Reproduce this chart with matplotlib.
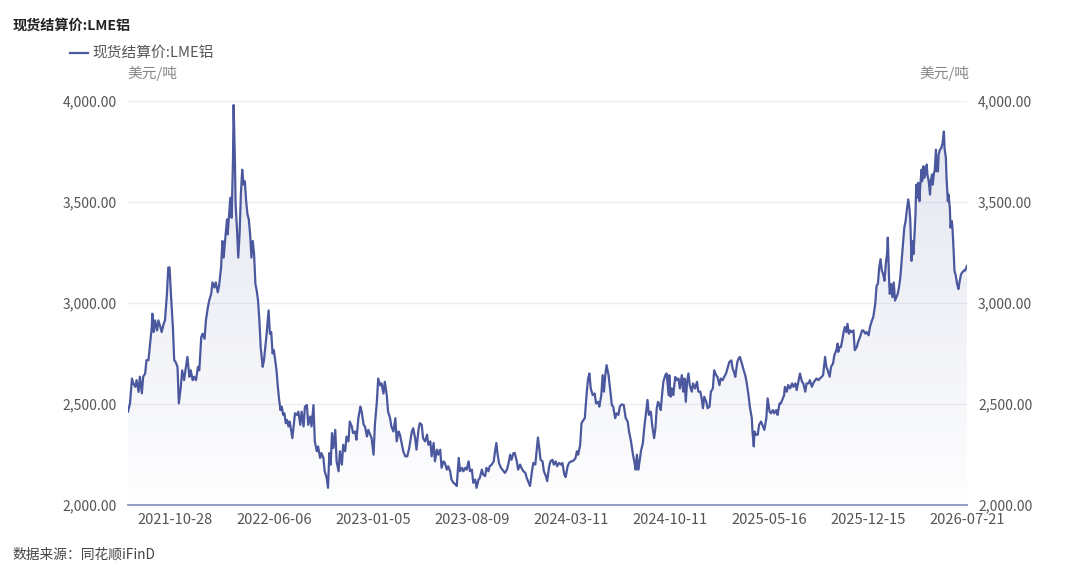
import matplotlib
matplotlib.use('Agg')
import numpy as np
import matplotlib.pyplot as plt
from matplotlib.colors import to_rgb

plt.rcParams['font.family'] = ['Noto Sans CJK SC', 'DejaVu Sans']

# trading-day index of each reading, and LME aluminium spot settlement price (USD/t)
day_idx = [
    0, 3, 6, 8, 11, 13, 16, 18, 21, 23, 26, 28, 31, 33, 36, 37, 39, 41, 44, 46,
    49, 51, 54, 56, 59, 61, 63, 65, 68, 70, 72, 75, 77, 80, 82, 85, 87, 90, 93, 95,
    98, 100, 103, 106, 108, 111, 113, 116, 118, 121, 123, 126, 128, 131, 133, 136, 138, 141, 143, 145,
    147, 150, 151, 153, 155, 157, 159, 160, 162, 163, 165, 167, 169, 171, 173, 175, 177, 179, 181, 183,
    185, 187, 189, 191, 193, 195, 197, 199, 201, 204, 206, 208, 210, 213, 215, 217, 219, 221, 223, 225,
    227, 229, 231, 233, 235, 237, 239, 241, 243,
    245, 249, 253, 256, 258, 261, 263, 266, 268, 271, 273, 276, 278, 281, 283, 286, 288, 291, 293, 296,
    298, 301, 303, 305, 307, 309, 311, 314, 316, 319, 321, 324, 326, 329, 331, 334, 336, 339, 341, 344,
    346, 349, 352, 354, 357, 359, 362, 364, 367, 369, 372, 374, 377, 379, 382, 384, 387, 389, 392, 394,
    397, 399, 402, 405, 407, 410, 412, 415, 417, 420, 423, 426, 430, 432, 435, 437, 440, 442, 445, 447,
    450, 453, 455, 458, 460, 463, 465, 468, 470, 473, 475, 478, 480, 483, 485, 488, 490, 493,
    496, 498, 501, 503, 506, 508, 511, 513, 516, 518, 521, 523, 526, 528, 531, 533, 536, 538, 541, 543,
    546, 548, 551, 554, 556, 558, 560, 562, 565, 569, 571, 574, 576, 579, 581, 584, 586, 589, 591, 594,
    596, 599, 602, 604, 607, 609, 612, 614, 617, 619, 621, 623, 625, 628, 630, 633, 635, 638, 640, 643,
    645, 648, 650, 653, 656, 658, 661, 663, 666, 668, 671, 673, 676, 678, 680, 682, 685, 687, 690, 692,
    695, 697, 699, 701, 704, 707, 709, 712, 714, 717, 719, 721, 723, 725, 728, 730, 733, 735, 738, 740,
    743, 745,
    748, 751, 754, 757, 759, 762, 765, 767, 769, 771, 773, 775, 777, 780, 782, 785, 787, 789, 792, 794,
    797, 799, 801, 803, 805, 807, 809, 811, 814, 816, 819, 820, 822, 824, 826, 829, 831, 834, 836, 839,
    841, 843, 845, 847, 849, 851, 854, 856, 859, 862, 864, 867, 869, 871, 873, 876, 878, 881, 883, 886,
    888, 891, 893, 896, 898, 901, 903, 906, 908, 911, 914, 916, 918, 920, 923, 925, 927, 930, 932, 935,
    937, 940, 942, 945, 946, 948, 949, 951, 954, 956, 959, 961, 964, 967, 969, 972, 974, 977, 979, 982,
    984, 987, 989, 992, 994,
    995, 998, 1000, 1003, 1006, 1008, 1011, 1013, 1016, 1018, 1021, 1023, 1026, 1028, 1031, 1033, 1036, 1038, 1041, 1043,
    1046, 1048, 1051, 1053, 1056, 1058, 1060, 1063, 1065, 1068, 1070, 1073, 1075, 1076, 1078, 1080, 1082, 1084, 1086, 1088,
    1090, 1092, 1094, 1096, 1099, 1101, 1104, 1106, 1109, 1112, 1114, 1117, 1119, 1122, 1124, 1127, 1129, 1132, 1134, 1136,
    1138, 1140, 1142, 1144, 1146, 1148, 1150, 1151, 1153, 1154, 1156, 1158, 1160, 1162, 1164, 1166, 1168, 1170, 1172, 1174,
    1176, 1178, 1180, 1182, 1184, 1185, 1187, 1188, 1190, 1191, 1193, 1194, 1196, 1197, 1199, 1200, 1202, 1203, 1205, 1206,
    1208, 1210, 1211, 1213, 1215, 1216, 1218, 1219, 1221, 1222, 1224, 1225, 1227, 1228, 1230, 1232, 1234, 1236, 1237, 1239,
    1240, 1242, 1243, 1245, 1246, 1248, 1249, 1251, 1252, 1254, 1256, 1258, 1260, 1262, 1264, 1266, 1268, 1270, 1271,
]
price = [
    2462, 2503, 2626, 2602, 2585, 2618, 2560, 2635, 2553, 2635, 2651, 2717, 2717, 2782, 2881, 2947, 2856, 2914, 2864, 2914,
    2881, 2856, 2897, 2914, 3045, 3176, 3176, 3045, 2881, 2717, 2709, 2684, 2503, 2585, 2667, 2618, 2667, 2733, 2635, 2667,
    2618, 2635, 2618, 2684, 2667, 2832, 2848, 2823, 2914, 2979, 3012, 3045, 3102, 3077, 3102, 3053, 3086, 3176, 3307, 3225,
    3307, 3414, 3340, 3431, 3521, 3422, 3701, 3980, 3701, 3488, 3373, 3225, 3340, 3537, 3660, 3586, 3603, 3504, 3439, 3414,
    3340, 3225, 3307, 3242, 3094, 3061, 3012, 2914, 2782, 2684, 2717, 2782, 2848, 2963, 2848, 2856, 2750, 2766, 2717, 2667,
    2585, 2520, 2470, 2487, 2446, 2454, 2405, 2421, 2389,
    2413, 2331, 2454, 2446, 2462, 2397, 2462, 2389, 2487, 2495, 2397, 2438, 2389, 2495, 2315, 2266, 2290, 2233, 2257, 2233,
    2167, 2135, 2085, 2257, 2200, 2356, 2282, 2372, 2216, 2167, 2266, 2200, 2298, 2266, 2339, 2315, 2413, 2389, 2356, 2364,
    2323, 2430, 2487, 2462, 2397, 2389, 2339, 2372, 2348, 2331, 2249, 2397, 2511, 2626, 2593, 2602, 2552, 2610, 2544, 2462,
    2430, 2389, 2364, 2430, 2315, 2364, 2348, 2298, 2266, 2241, 2241, 2282, 2364, 2380, 2331, 2274, 2372, 2405, 2397, 2331,
    2315, 2348, 2298, 2315, 2241, 2307, 2216, 2274, 2249, 2274, 2184, 2216, 2208, 2175, 2192, 2167, 2126, 2110,
    2102, 2094, 2233, 2167, 2184, 2167, 2184, 2175, 2216, 2167, 2175, 2110, 2126, 2085, 2126, 2134, 2175, 2151, 2143, 2184,
    2167, 2192, 2200, 2216, 2266, 2307, 2249, 2208, 2184, 2167, 2159, 2175, 2200, 2249, 2224, 2257, 2257, 2216, 2175, 2200,
    2184, 2167, 2159, 2134, 2110, 2094, 2167, 2208, 2200, 2266, 2334, 2282, 2224, 2216, 2167, 2143, 2118, 2192, 2216, 2224,
    2200, 2216, 2192, 2208, 2200, 2208, 2151, 2138, 2192, 2208, 2216, 2216, 2224, 2233, 2266, 2249, 2298, 2405, 2421, 2430,
    2561, 2626, 2651, 2577, 2544, 2552, 2503, 2511, 2487, 2544, 2643, 2561, 2643, 2692, 2643, 2585, 2495, 2487, 2430, 2454,
    2446, 2487,
    2498, 2495, 2430, 2413, 2364, 2315, 2249, 2216, 2175, 2249, 2175, 2216, 2266, 2307, 2380, 2462, 2520, 2446, 2462, 2397,
    2331, 2380, 2479, 2511, 2495, 2470, 2544, 2610, 2643, 2651, 2544, 2643, 2536, 2577, 2544, 2634, 2618, 2626, 2577, 2643,
    2561, 2626, 2511, 2610, 2651, 2593, 2561, 2602, 2577, 2610, 2561, 2561, 2528, 2479, 2536, 2511, 2479, 2487, 2561, 2577,
    2667, 2643, 2634, 2593, 2626, 2618, 2634, 2651, 2675, 2708, 2716, 2675, 2659, 2634, 2708, 2725, 2733, 2700, 2675, 2643,
    2610, 2544, 2487, 2430, 2364, 2290, 2364, 2348, 2348, 2397, 2413, 2397, 2372, 2430, 2528, 2462, 2454, 2470, 2454, 2470,
    2446, 2503, 2503, 2528, 2544,
    2585, 2561, 2594, 2577, 2602, 2585, 2602, 2569, 2618, 2651, 2610, 2602, 2561, 2602, 2602, 2618, 2585, 2602, 2618, 2626,
    2618, 2626, 2635, 2643, 2733, 2684, 2667, 2635, 2684, 2700, 2741, 2766, 2799, 2758, 2782, 2782, 2815, 2856, 2881, 2856,
    2897, 2848, 2864, 2856, 2864, 2766, 2782, 2807, 2832, 2864, 2864, 2848, 2856, 2840, 2881, 2914, 2930, 2996, 3086, 3094,
    3176, 3217, 3160, 3143, 3110, 3193, 3250, 3324, 3110, 3045, 3094, 3029, 3102, 3012, 3029, 3045, 3078, 3127, 3209, 3291,
    3373, 3406, 3463, 3513, 3463, 3414, 3209, 3307, 3242, 3307, 3439, 3586, 3521, 3595, 3504, 3570, 3660, 3603, 3677, 3619,
    3636, 3685, 3636, 3603, 3537, 3603, 3636, 3586, 3644, 3652, 3759, 3652, 3652, 3734, 3759, 3767, 3792, 3849, 3767, 3718,
    3619, 3504, 3537, 3472, 3373, 3406, 3373, 3242, 3160, 3135, 3094, 3069, 3110, 3143, 3152, 3160, 3160, 3176, 3184,
]

tick_idx = [71, 221, 371, 521, 671, 821, 971, 1121, 1271]
tick_labels = ['2021-10-28', '2022-06-06', '2023-01-05', '2023-08-09', '2024-03-11',
               '2024-10-11', '2025-05-16', '2025-12-15', '2026-07-21']
y_ticks = [2000, 2500, 3000, 3500, 4000]

title = '现货结算价:LME铝'
unit = '美元/吨'
source = '数据来源：同花顺iFinD'

LINE = '#4b589e'
W, H = 1080, 561

fig = plt.figure(figsize=(W / 100, H / 100), dpi=100)
ax = fig.add_axes([128 / W, 1 - 505 / H, (967 - 128) / W, (505 - 101) / H])

line, = ax.plot(day_idx, price, color=LINE, lw=1.6, zorder=3, label=title)

# gradient area under the line
poly = ax.fill_between(day_idx, price, 2000, color='none', lw=0)
grad = np.zeros((256, 1, 4))
grad[..., :3] = to_rgb(LINE)
grad[..., 3] = np.linspace(0.16, 0.01, 256)[:, None]
im = ax.imshow(grad, extent=[day_idx[0], day_idx[-1], 2000, 4000], aspect='auto',
               origin='upper', zorder=2)
im.set_clip_path(poly.get_paths()[0], transform=ax.transData)

ax.set_xlim(day_idx[0], day_idx[-1])
ax.set_ylim(2000, 4000)
ax.set_yticks(y_ticks)
ax.set_yticklabels([f'{v:,.2f}' for v in y_ticks])
ax.set_xticks(tick_idx)
ax.set_xticklabels(tick_labels)
ax.grid(axis='y', color='#eceef5', lw=1, zorder=0)
ax.set_axisbelow(True)
for s in ['left', 'right', 'top']:
    ax.spines[s].set_visible(False)
ax.spines['bottom'].set_color('#8c97c2')
ax.spines['bottom'].set_linewidth(1.3)
ax.tick_params(axis='y', length=0, pad=8, labelsize=10, labelcolor='#555555')
ax.tick_params(axis='x', length=0, pad=6, labelsize=10.6, labelcolor='#555555')

ax2 = ax.twinx()
ax2.set_ylim(2000, 4000)
ax2.set_yticks(y_ticks)
ax2.set_yticklabels([f'{v:,.2f}' for v in y_ticks])
for s in ax2.spines.values():
    s.set_visible(False)
ax2.tick_params(axis='y', length=0, pad=8, labelsize=10, labelcolor='#555555')

fig.text(13 / W, 1 - 26 / H, title, fontsize=10.2, weight='bold', color='#222222', va='center')
fig.legend(handles=[line], loc='center left', bbox_to_anchor=(70 / W, 1 - 54 / H),
           frameon=False, fontsize=10.6, labelcolor='#555555', borderpad=0, borderaxespad=0,
           handlelength=1.2, handletextpad=0.35)
fig.text(152 / W, 1 - 73 / H, unit, fontsize=10.6, color='#888888', ha='center', va='center')
fig.text(944 / W, 1 - 73 / H, unit, fontsize=10.6, color='#888888', ha='center', va='center')
fig.text(13 / W, 1 - 555 / H, source, fontsize=9.9, color='#444444', va='center')

fig.savefig('out.png', dpi=100)
